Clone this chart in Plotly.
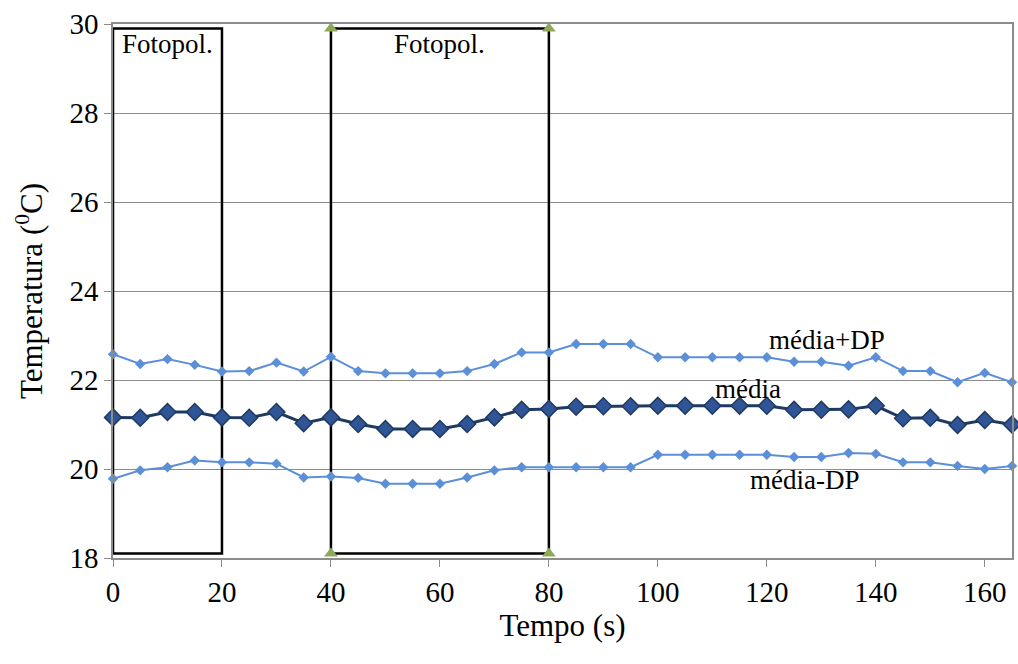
import plotly.graph_objects as go

tempo = [0, 5, 10, 15, 20, 25, 30, 35, 40, 45, 50, 55, 60, 65, 70, 75, 80, 85,
         90, 95, 100, 105, 110, 115, 120, 125, 130, 135, 140, 145, 150, 155, 160, 165]

media = [21.16, 21.15, 21.28, 21.28, 21.16, 21.15, 21.28, 21.03, 21.16, 21.01, 20.90, 20.90,
         20.90, 21.01, 21.16, 21.33, 21.35, 21.40, 21.41, 21.41, 21.42, 21.42, 21.42, 21.42,
         21.42, 21.33, 21.33, 21.34, 21.42, 21.14, 21.15, 20.99, 21.10, 21.00]

media_mais_dp = [22.58, 22.36, 22.47, 22.34, 22.19, 22.20, 22.39, 22.19, 22.52, 22.20, 22.15, 22.15,
                 22.15, 22.20, 22.36, 22.62, 22.62, 22.81, 22.81, 22.81, 22.51, 22.51, 22.51, 22.51,
                 22.51, 22.41, 22.41, 22.32, 22.51, 22.20, 22.20, 21.95, 22.16, 21.95]

media_menos_dp = [19.78, 19.97, 20.04, 20.19, 20.15, 20.15, 20.12, 19.81, 19.83, 19.80, 19.67, 19.67,
                  19.67, 19.81, 19.97, 20.04, 20.04, 20.04, 20.04, 20.04, 20.32, 20.32, 20.32, 20.32,
                  20.32, 20.27, 20.27, 20.36, 20.34, 20.15, 20.15, 20.07, 20.00, 20.07]

# Fotopolymerization boxes
box1_x = [0, 0, 20, 20, 0]
box1_y = [18.1, 29.9, 29.9, 18.1, 18.1]
box2_x = [40, 40, 80, 80, 40]
box2_y = [18.1, 29.9, 29.9, 18.1, 18.1]
box2_corner_x = [40, 40, 80, 80]
box2_corner_y = [18.1, 29.9, 29.9, 18.1]

x_ticks = [0, 20, 40, 60, 80, 100, 120, 140, 160]
y_ticks = [18, 20, 22, 24, 26, 28, 30]

FONT = "Liberation Serif, Tinos, DejaVu Serif, serif"
light = "#5B8FD8"
dark_line = "#1F3A60"
dark_fill = "#2F5597"

fig = go.Figure()

fig.add_trace(go.Scatter(x=box1_x, y=box1_y, mode="lines",
                         line=dict(color="black", width=2.5), showlegend=False, hoverinfo="skip"))
fig.add_trace(go.Scatter(x=box2_x, y=box2_y, mode="lines",
                         line=dict(color="black", width=2.5), showlegend=False, hoverinfo="skip"))
fig.add_trace(go.Scatter(x=box2_corner_x, y=box2_corner_y, mode="markers",
                         marker=dict(symbol="triangle-up", size=12, color="#8FA85A"),
                         showlegend=False, hoverinfo="skip", cliponaxis=False))

fig.add_trace(go.Scatter(x=tempo, y=media_mais_dp, mode="lines+markers", name="média+DP",
                         line=dict(color=light, width=2),
                         marker=dict(symbol="diamond", size=8, color=light),
                         showlegend=False, cliponaxis=False))
fig.add_trace(go.Scatter(x=tempo, y=media_menos_dp, mode="lines+markers", name="média-DP",
                         line=dict(color=light, width=2),
                         marker=dict(symbol="diamond", size=8, color=light),
                         showlegend=False, cliponaxis=False))
fig.add_trace(go.Scatter(x=tempo, y=media, mode="lines+markers", name="média",
                         line=dict(color=dark_line, width=3),
                         marker=dict(symbol="diamond", size=13, color=dark_fill,
                                     line=dict(color=dark_line, width=1.5)),
                         showlegend=False, cliponaxis=False))

annotations = [
    dict(x=10, y=29.55, text="Fotopol."),
    dict(x=60, y=29.55, text="Fotopol."),
    dict(x=131, y=22.9, text="média+DP"),
    dict(x=116.5, y=21.8, text="média"),
    dict(x=127, y=19.75, text="média-DP"),
]
for a in annotations:
    fig.add_annotation(x=a["x"], y=a["y"], text=a["text"], showarrow=False,
                       font=dict(family=FONT, size=27, color="black"),
                       xanchor="center", yanchor="middle")

fig.update_layout(
    width=1018, height=664,
    margin=dict(l=113, r=6, t=24, b=106),
    paper_bgcolor="white", plot_bgcolor="white",
    font=dict(family=FONT, size=29, color="black"),
    showlegend=False,
)
fig.update_xaxes(range=[0, 165], tickvals=x_ticks, ticktext=[str(v) for v in x_ticks],
                 automargin=False,
                 showgrid=False, zeroline=False,
                 showline=True, linecolor="#8C8C8C", linewidth=1.5, mirror=True,
                 ticks="outside", ticklen=7, tickcolor="#8C8C8C",
                 tickfont=dict(family=FONT, size=29),
                 title=dict(text="Tempo (s)", font=dict(family=FONT, size=31), standoff=8))
fig.update_yaxes(range=[18, 30], tickvals=y_ticks, ticktext=[str(v) for v in y_ticks],
                 automargin=False,
                 showgrid=True, gridcolor="#8C8C8C", gridwidth=1.2, zeroline=False,
                 showline=True, linecolor="#8C8C8C", linewidth=1.5, mirror=True,
                 ticks="outside", ticklen=7, tickcolor="#8C8C8C",
                 tickfont=dict(family=FONT, size=29),
                 title=dict(text="Temperatura (<sup>0</sup>C)", font=dict(family=FONT, size=31),
                            standoff=18))

fig.write_html("out.html", post_script="document.body.style.margin='0';",
               config={"displayModeBar": False})
